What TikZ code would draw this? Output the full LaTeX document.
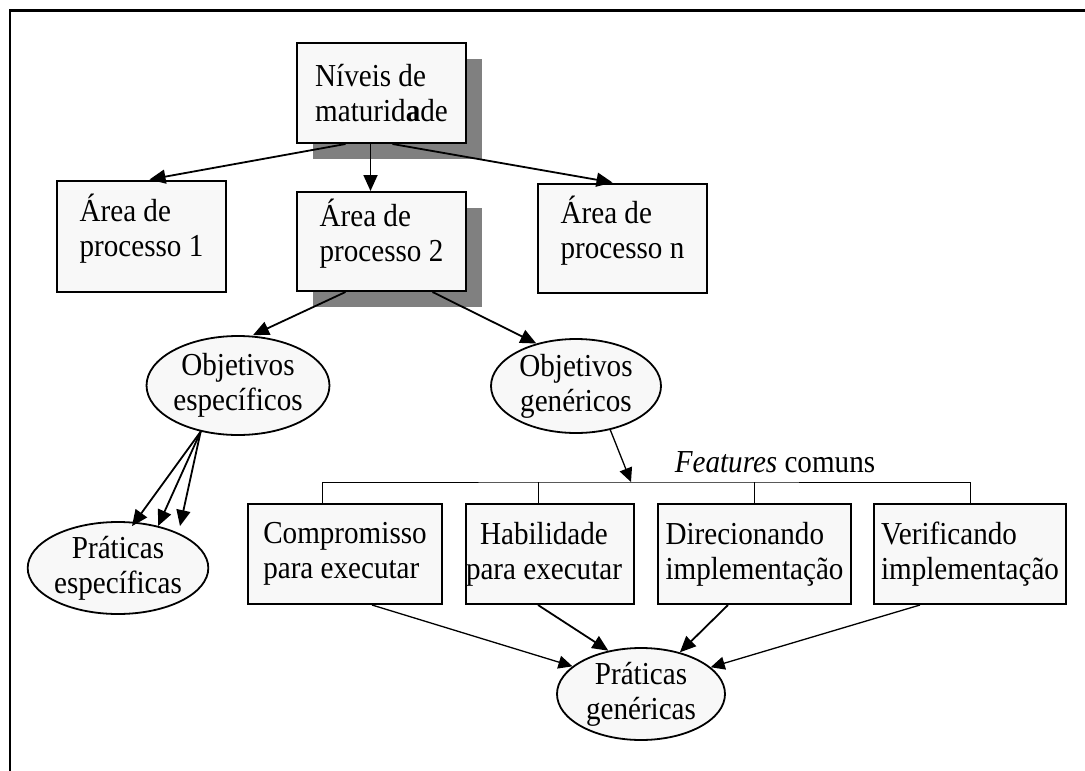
\documentclass[tikz,border=0pt]{standalone}
\usepackage{fontspec}
\setmainfont{Liberation Serif}[FakeStretch=0.91]
\usetikzlibrary{arrows.meta,shapes.geometric,shadows}
\definecolor{boxfill}{HTML}{F8F8F8}
\definecolor{shade}{HTML}{808080}
\begin{document}
\begin{tikzpicture}[x=1pt,y=-1pt,
  every node/.style={font=\fontsize{32}{35}\selectfont},
  box/.style={draw, line width=2pt, fill=boxfill, rectangle, inner sep=0pt, align=left},
  raised/.style={text depth=22pt},
  shadowed/.style={drop shadow={fill=shade, opacity=1, shadow xshift=16pt, shadow yshift=-16pt}},
  oval/.style={draw, line width=1.8pt, fill=boxfill, ellipse, inner sep=0pt, align=center},
  arr/.style={-{Triangle[length=16pt,width=14pt]}, line width=1.8pt},
  thinarr/.style={-{Triangle[length=14pt,width=13pt]}, line width=1.3pt},
  bracket/.style={line width=1pt}
]
\useasboundingbox (0,0) rectangle (1085,771);
\clip (0,0) rectangle (1085,771);

% outer frame (top and left edges)
\draw[line width=2.5pt] (10,800) -- (10,10.5) -- (1100,10.5);

% maturity levels and process areas
\node[box, shadowed, minimum width=169pt, minimum height=100pt] (niveis) at (381.5,93) {Níveis de\\maturid\textbf{a}de};
\node[box, raised, minimum width=169pt, minimum height=111pt] (area1) at (141.5,236) {Área de\\processo 1};
\node[box, raised, shadowed, minimum width=169pt, minimum height=99pt] (area2) at (381.5,241.5) {Área de\\processo 2};
\node[box, raised, minimum width=169pt, minimum height=109pt] (arean) at (622.5,238) {Área de\\processo n};

% goals
\node[oval, minimum width=168pt, minimum height=99pt] (oesp) at (238,385.5) {Objetivos\\específicos};
\node[oval, minimum width=170pt, minimum height=94pt] (ogen) at (576,386) {Objetivos\\genéricos};

% practices
\node[oval, minimum width=164pt, minimum height=92pt] (pesp) at (118,568) {Práticas\\específicas};
\node[oval, minimum width=168pt, minimum height=92pt] (pgen) at (641,694) {Práticas\\genéricas};

% common features
\node (feat) at (775,462) {\textit{Features} comuns};
\node[box, minimum width=194pt, minimum height=100pt] (cb1) at (345,554) {Compromisso\\para executar};
\node[box, align=center, minimum width=168pt, minimum height=100pt] (cb2) at (550,554) {\hspace*{-12pt}Habilidade\\\hspace*{-12pt}para executar};
\node[box, minimum width=193pt, minimum height=100pt] (cb3) at (754.5,554) {Direcionando\\implementação};
\node[box, minimum width=192pt, minimum height=100pt] (cb4) at (970,554) {Verificando\\implementação};
\coordinate (bartip) at (631,482);

% connectors
\draw[arr] ([xshift=-36pt]niveis.south) -- ([xshift=8pt]area1.north);
\draw[arr] ([xshift=-11pt]niveis.south) -- ([xshift=-11pt]area2.north);
\draw[arr] ([xshift=11pt]niveis.south) -- ([xshift=-10pt]arean.north);

\draw[arr] ([xshift=-36pt]area2.south) -- ([xshift=15pt]oesp.north);
\draw[arr] ([xshift=51pt]area2.south) -- (ogen.133);

\draw[arr] (oesp.231) -- ([xshift=14pt,yshift=-5pt]pesp.north);
\draw[arr] (oesp.231) -- ([xshift=40pt,yshift=-5pt]pesp.north);
\draw[arr] (oesp.231) -- ([xshift=62pt,yshift=-5pt]pesp.north);

\draw[thinarr] (ogen.-52) -- (bartip);
\draw[bracket] ([xshift=-23pt]cb1.north) |- (bartip) -| (cb4.north);
\draw[bracket] ([xshift=-12pt]cb2.north) -- ([xshift=-12pt]cb2.north |- bartip);
\draw[bracket] (cb3.north) -- (cb3.north |- bartip);

\draw[thinarr] ([xshift=27pt]cb1.south) -- (pgen.158);
\draw[arr] ([xshift=-12pt]cb2.south) -- (pgen.127);
\draw[arr] ([xshift=-26.5pt]cb3.south) -- (pgen.47);
\draw[thinarr] ([xshift=-50pt]cb4.south) -- (pgen.21);
\end{tikzpicture}
\end{document}
